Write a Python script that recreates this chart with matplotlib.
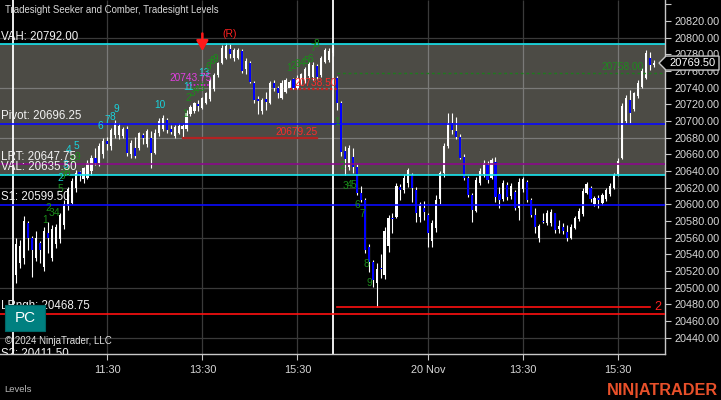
import numpy as np
import matplotlib.pyplot as plt
from matplotlib.patches import Polygon, Rectangle
from matplotlib.transforms import IdentityTransform, blended_transform_factory

plt.rcParams['font.family'] = ['Liberation Sans', 'DejaVu Sans']

# 5-minute bars, 19 Nov session then 20 Nov session (81 bars each)
opens_d1 = [20515, 20530, 20535, 20578, 20560, 20535, 20553, 20525, 20565, 20535,
            20552, 20558, 20575, 20598, 20602, 20620, 20639, 20630, 20632, 20640,
            20655, 20650, 20660, 20676, 20670, 20683, 20683, 20682, 20690, 20660,
            20668, 20668, 20683, 20672, 20680, 20662, 20685, 20690, 20701, 20690,
            20682, 20686, 20690, 20690, 20708, 20712, 20720, 20716, 20722, 20726,
            20738, 20755, 20770, 20776, 20786, 20775, 20776, 20784, 20762, 20770,
            20746, 20726, 20712, 20726, 20722, 20745, 20739, 20728, 20735, 20740,
            20750, 20740, 20745, 20748, 20754, 20753, 20766, 20755, 20771, 20773,
            20782]
highs_d1 = [20560, 20557, 20586, 20580, 20562, 20568, 20556, 20573, 20579, 20575,
            20576, 20590, 20605, 20621, 20631, 20641, 20640, 20645, 20653, 20659,
            20667, 20673, 20679, 20681, 20692, 20701, 20697, 20693, 20694, 20677,
            20681, 20687, 20686, 20690, 20688, 20690, 20703, 20707, 20703, 20695,
            20695, 20697, 20696, 20713, 20719, 20723, 20725, 20729, 20735, 20751,
            20757, 20771, 20791, 20793, 20792, 20787, 20787, 20786, 20775, 20772,
            20748, 20730, 20727, 20735, 20748, 20749, 20742, 20749, 20751, 20749,
            20752, 20755, 20758, 20765, 20771, 20771, 20768, 20778, 20788, 20788,
            20790]
lows_d1 = [20506, 20524, 20528, 20545, 20513, 20532, 20530, 20520, 20541, 20532,
           20548, 20554, 20570, 20593, 20600, 20615, 20628, 20626, 20630, 20635,
           20647, 20646, 20656, 20665, 20665, 20680, 20678, 20679, 20658, 20656,
           20655, 20665, 20672, 20669, 20643, 20660, 20682, 20688, 20686, 20684,
           20680, 20684, 20679.25, 20688, 20706, 20710, 20712, 20714, 20720, 20724,
           20736, 20753, 20768, 20774, 20776, 20772, 20774, 20757, 20756, 20745,
           20722, 20708, 20708, 20713, 20720, 20736, 20727, 20726, 20733, 20738,
           20738.5, 20738, 20743, 20746, 20752, 20749, 20750, 20753, 20769, 20771,
           20778]
closes_d1 = [20552, 20550, 20580, 20560, 20545, 20560, 20545, 20568, 20560, 20570,
             20573, 20587, 20600, 20618, 20628, 20638, 20636, 20643, 20650, 20656,
             20649, 20670, 20676, 20672, 20689, 20698, 20694, 20690, 20662, 20674,
             20658, 20685, 20680, 20688, 20661, 20686, 20700, 20704, 20689, 20687,
             20693, 20694, 20694, 20710, 20717, 20721, 20718, 20727, 20733, 20748,
             20755, 20769, 20788, 20790, 20780, 20785, 20785, 20760, 20772, 20747,
             20725, 20724, 20725, 20723, 20746, 20740, 20733, 20746, 20749, 20747,
             20739, 20752, 20756, 20762, 20768, 20767, 20753, 20775, 20785, 20784,
             20787]

opens_d2 = [20751, 20722, 20664, 20645, 20657, 20645, 20613, 20605, 20549, 20531,
            20505, 20524, 20515, 20550, 20584, 20585, 20621, 20617, 20625, 20635,
            20617, 20585, 20596, 20587, 20556, 20572, 20606, 20638, 20670, 20697,
            20688, 20681, 20657, 20631, 20611, 20592, 20626, 20636, 20647, 20632,
            20651, 20612, 20606, 20623, 20610, 20615, 20596, 20618, 20627, 20605,
            20587, 20560, 20580, 20578, 20577, 20589, 20570, 20573, 20567, 20560,
            20572, 20582, 20588, 20614, 20619, 20600, 20608, 20602, 20606, 20612,
            20620, 20636, 20656, 20700, 20725, 20714, 20730, 20741, 20752, 20776,
            20767]
highs_d2 = [20754, 20724, 20670, 20671, 20667, 20648, 20622, 20607, 20552, 20533,
            20530, 20540, 20573, 20587, 20590, 20625, 20624, 20636, 20644, 20637,
            20621, 20603, 20604, 20589, 20581, 20611, 20640, 20674, 20710, 20710,
            20705, 20684, 20660, 20634, 20613, 20633, 20643, 20653, 20652, 20656,
            20657, 20621, 20629, 20627, 20625, 20617, 20631, 20633, 20629, 20608,
            20595, 20576, 20589, 20593, 20594, 20590, 20581, 20577, 20575, 20576,
            20586, 20595, 20619, 20627, 20622, 20610, 20611, 20614, 20619, 20625,
            20637, 20656, 20722, 20731, 20737, 20735, 20749, 20763, 20785, 20783,
            20773]
lows_d2 = [20713, 20658, 20635, 20641, 20637, 20611, 20603, 20541, 20519, 20501,
           20476.75, 20511, 20510, 20543, 20565, 20583, 20605, 20614, 20621, 20603,
           20579, 20579, 20581, 20549, 20549, 20567, 20600, 20633, 20667, 20684,
           20678, 20654, 20629, 20609, 20579, 20591, 20623, 20633, 20626, 20630,
           20603, 20595, 20604, 20605, 20606, 20593, 20581, 20615, 20603, 20585,
           20565, 20555, 20577, 20575, 20574, 20565, 20565, 20564, 20556, 20558,
           20570, 20580, 20586, 20612, 20603, 20598, 20595, 20599, 20604, 20610,
           20618, 20634, 20654, 20697, 20697, 20712, 20728, 20739, 20750, 20761,
           20765]
closes_d2 = [20722, 20663, 20654, 20668, 20645, 20613, 20605, 20545, 20531, 20509,
             20522, 20522, 20568, 20583, 20582, 20622, 20617, 20632, 20641, 20620,
             20589, 20600, 20591, 20565, 20578, 20605, 20637, 20670, 20697, 20689,
             20681, 20656, 20631, 20611, 20593, 20629, 20640, 20650, 20629, 20653,
             20609, 20605, 20626, 20609, 20622, 20595, 20627, 20630, 20605, 20587,
             20573, 20574, 20579, 20590, 20591, 20569, 20574, 20568, 20559, 20573,
             20584, 20592, 20616, 20624, 20606, 20608, 20605, 20611, 20617, 20622,
             20635, 20652, 20718, 20727, 20710, 20733, 20746, 20760, 20782, 20767,
             20769.5]

# Tradesight levels
level_names = ['VAH', 'Pivot', 'LRT', 'VAL', 'S1', 'LRngh', 'S2']
level_values = [20792.00, 20696.25, 20647.75, 20635.50, 20599.50, 20468.75, 20411.50]
level_colors = ['#19e6f0', '#0a0aff', '#8a0a8a', '#19e6f0', '#0a0aff', '#ff1010', '#0a0aff']

# time axis
tick_bars = [23, 47, 71, 104, 128, 152]
tick_labels = ['11:30', '13:30', '15:30', '20 Nov', '13:30', '15:30']
session_breaks = [-0.7, 80.1]

# Seeker / Comber counts
count_text = ['1', '2', '3', '4', '5', '6', '7', '8', '8', '9',
              '2', '3', '4', '5',
              '6', '7', '8', '9', '10',
              '1', '2', '3', '4', '5', '11', '13', '6', '7', '8', '9',
              '1', '2', '3', '4', '5', '6', '7', '8',
              '1', '2', '3', '4', '5', '6', '7', '8', '9']
count_bar = [7.2, 8.0, 9.0, 10.2, 11.2, 11.6, 12.2, 12.8, 14.3, 15.4,
             11.0, 12.4, 13.3, 15.3,
             21.2, 22.9, 24.2, 25.2, 36.3,
             42.6, 43.4, 44.6, 45.6, 46.7, 43.4, 47.4, 48.5, 49.0, 49.6, 50.3,
             68.9, 70.0, 71.1, 72.2, 73.3, 74.2, 74.9, 75.9,
             81.0, 82.2, 83.0, 84.3, 85.1, 86.0, 87.3, 88.3, 89.1]
count_price = [20581, 20596, 20590, 20590, 20618, 20634, 20636, 20638, 20653, 20657,
               20631, 20647, 20665, 20670,
               20694, 20701, 20705, 20714, 20719,
               20708, 20728, 20734, 20737, 20740, 20741, 20758, 20765, 20768, 20772, 20774,
               20764, 20766, 20768, 20770, 20772, 20774, 20788, 20792,
               20699, 20646, 20622, 20623, 20623, 20599, 20588, 20528, 20505]
count_color = (['g'] * 10 + ['c'] * 4 + ['c'] * 5 + ['g'] * 5 + ['c'] * 2 + ['g'] * 4
               + ['g'] * 8 + ['g'] * 9)

opens = np.array(opens_d1 + opens_d2, dtype=float)
highs = np.array(highs_d1 + highs_d2, dtype=float)
lows = np.array(lows_d1 + lows_d2, dtype=float)
closes = np.array(closes_d1 + closes_d2, dtype=float)
x = np.arange(len(opens))

fig = plt.figure(figsize=(7.21, 4.0), dpi=100, facecolor='black')
ax = fig.add_axes([0, 46 / 400, 665 / 721, 354 / 400], facecolor='black')
ymin, ymax = 20420.2, 20845.2
ax.set_xlim(-4.09, 163.8)
ax.set_ylim(ymin, ymax)

vah, val = level_values[0], level_values[3]
ax.axhspan(val, vah, color='#4c4b45', zorder=0.2, lw=0)

# grid (lighter inside the value area)
dark, light = '#3a3a3a', '#7a7a78'
for p in range(20440, 20841, 60):
    ax.axhline(p, color=light if val < p < vah else dark, lw=0.9, zorder=0.5)
ax.vlines(tick_bars, ymin, val, color=dark, lw=0.9, zorder=0.5)
ax.vlines(tick_bars, val, vah, color=light, lw=0.9, zorder=0.5)
ax.vlines(tick_bars, vah, ymax, color=dark, lw=0.9, zorder=0.5)
ax.vlines(session_breaks, ymin, ymax, color='white', lw=1.3, zorder=1)

# candles
up = closes >= opens
body_lo = np.minimum(opens, closes)
body_h = np.maximum(np.abs(closes - opens), 1.0)
ax.vlines(x, lows, highs, color='white', lw=0.8, zorder=3)
ax.bar(x, body_h, bottom=body_lo, width=0.55, color=np.where(up, 'white', '#0000ff'),
       lw=0, zorder=3.1)

# level lines + labels (clipped to the plot area like the platform does)
lab_tr = blended_transform_factory(ax.transAxes, ax.transData)
for name, v, c in zip(level_names, level_values, level_colors):
    ax.axhline(v, color=c, lw=1.2, zorder=4)
    ax.text(0.002, v + 2.0, f'{name}: {v:.2f}', transform=lab_tr, va='bottom', ha='left',
            fontsize=8.3, color='#f2f2f2', zorder=6, clip_on=True)

# swing markers
ax.plot([42, 76], [20679.25, 20679.25], color='#b22222', lw=1.6, zorder=4)
ax.text(76, 20680.5, '20679.25', color='#ff2a2a', fontsize=7.3, ha='right', va='bottom', zorder=6)
ax.plot([69, 81], [20738.5, 20738.5], color='#c81e1e', lw=1.6, ls=(0, (1, 1)), zorder=4)
ax.text(81, 20739.5, '20738.50', color='#ff2a2a', fontsize=7.3, ha='right', va='bottom', zorder=6)
ax.plot([43, 49], [20743.75, 20743.75], color='#e020e0', lw=1.2, ls=(0, (1, 1)), zorder=4)
ax.text(44, 20745, '20743.75', color='#e040e0', fontsize=7.3, ha='center', va='bottom', zorder=6)
ax.plot([81, 164], [20758.0, 20758.0], color='#1e7a1e', lw=1.0, ls=(0, (2, 2)), zorder=4)
ax.text(158.5, 20759, '20758.00', color='#1e8a1e', fontsize=7.3, ha='right', va='bottom', zorder=6)
ax.plot([81, 160], [20476.75, 20476.75], color='#ff1010', lw=1.2, zorder=4)
ax.text(161.2, 20476.75, '2', color='#ff2020', fontsize=9, ha='left', va='center', zorder=6)
ax.text(54, 20804, '(R)', color='#ff2020', fontsize=7.5, ha='center', va='center', zorder=6)
ax.annotate('', xy=(47, 20784), xytext=(47, 20805),
            arrowprops=dict(arrowstyle='-|>,head_length=0.6,head_width=0.35', color='#ff1a1a',
                            lw=1.8, mutation_scale=10, shrinkA=0, shrinkB=0),
            zorder=6)

cmap = {'g': '#1a8c1a', 'c': '#19d2dc'}
for t, b, p, c in zip(count_text, count_bar, count_price, count_color):
    ax.text(b, p, t, color=cmap[c], fontsize=7.3, ha='center', va='center', zorder=5)

# axes styling
for s in ['top', 'left']:
    ax.spines[s].set_visible(False)
for s in ['right', 'bottom']:
    ax.spines[s].set_color('#c8c8c8')
    ax.spines[s].set_linewidth(1)
ax.yaxis.tick_right()
yt = list(range(20440, 20841, 20))
ax.set_yticks(yt)
ax.set_yticklabels([f'{v:.2f}' if v < 20840 else '' for v in yt])
ax.set_xticks(tick_bars)
ax.set_xticklabels(tick_labels)
ax.tick_params(axis='y', colors='#c8c8c8', labelcolor='#d8d8d8', labelsize=7.8, length=4, pad=3)
ax.tick_params(axis='x', colors='#c8c8c8', labelcolor='#d8d8d8', labelsize=7.8, length=4, pad=4)

# last price tag
fig.canvas.draw()
yd = ax.transData.transform((0, closes[-1]))[1]
tag = Polygon([(659, yd), (666, yd + 7), (719, yd + 7), (719, yd - 7), (666, yd - 7)],
              closed=True, fc='black', ec='#c8c8c8', lw=1, transform=IdentityTransform(), zorder=5)
fig.add_artist(tag)
fig.text(692.5, yd, f'{closes[-1]:.2f}', transform=IdentityTransform(), color='white',
         fontsize=8, ha='center', va='center', zorder=6)

# overlays
fig.text(5 / 721, 1 - 10 / 400, 'Tradesight Seeker and Comber, Tradesight Levels',
         color='#d8d8d8', fontsize=6.9, va='center', ha='left')
fig.add_artist(Rectangle((5 / 721, 69 / 400), 40 / 721, 26 / 400, transform=fig.transFigure,
                         fc='#008080', ec='#006666', lw=0.8, zorder=7))
fig.text(25 / 721, 82 / 400, 'PC', color='white', fontsize=11, ha='center', va='center', zorder=8)
fig.text(5 / 721, 1 - 341 / 400, '\u00a9 2024 NinjaTrader, LLC', color='#e0e0e0', fontsize=7,
         va='center', ha='left', zorder=8)
fig.text(4 / 721, 1 - 390 / 400, 'Levels', color='#b8b8b8', fontsize=6.8, va='center', ha='left')
fig.text(718 / 721, 1 - 390 / 400, 'NIN|ATRADER', color='#e8502a', fontsize=11.7,
         fontweight='bold', va='center', ha='right')

fig.savefig('out.png', dpi=100, facecolor='black')
